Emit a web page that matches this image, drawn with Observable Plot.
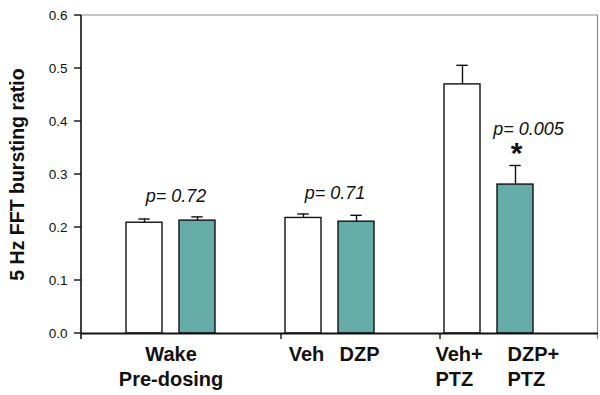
<!DOCTYPE html>
<html><head><meta charset="utf-8">
<script src="https://cdn.jsdelivr.net/npm/d3@7"></script>
<script src="https://cdn.jsdelivr.net/npm/@observablehq/plot@0.6"></script>
<style>
body{margin:0;background:#fff;}
#chart svg{display:block;}
</style></head><body><div id="chart"></div>
<script>
// ---- data ----
const barKeys = ["Wake-Veh","Wake-DZP","Veh","DZP","Veh+PTZ","DZP+PTZ"];
const treatments = ["Vehicle","DZP","Vehicle","DZP","Vehicle","DZP"];
const means = [0.209, 0.213, 0.218, 0.211, 0.470, 0.281];
const sems = [0.007, 0.007, 0.0075, 0.012, 0.036, 0.036];
const xDomain = ["Wake-Veh","Wake-DZP","gap1","Veh","DZP","gap2","Veh+PTZ","DZP+PTZ"];
const pairLabel = ["Wake\nPre-dosing"];
const pairLabelAt = ["Wake-Veh"];
const barLabels = ["Veh","DZP"];
const barLabelAt = ["Veh","DZP"];
const ptzLabels = ["Veh+\nPTZ","DZP+\nPTZ"];
const ptzLabelAt = ["Veh+PTZ","DZP+PTZ"];
const pairP = ["p= 0.72","p= 0.71"];
const pairPAt = [["Wake-Veh","Wake-DZP"],["Veh","DZP"]];
const singleP = ["p= 0.005"];
const singlePAt = ["DZP+PTZ"];
const starAt = ["DZP+PTZ"];
const groupStarts = ["Veh","Veh+PTZ"];
const yTicks = [0, 0.1, 0.2, 0.3, 0.4, 0.5, 0.6];
const yLabel = "5 Hz FFT bursting ratio";

// ---- layout ----
const W = 600, H = 395, mL = 81, mR = 2, mT = 15, mB = 62;
const xOpts = {type: "band", domain: xDomain, paddingInner: 0.33, paddingOuter: 1.03, align: 0.41};
const xs = Plot.scale({x: {...xOpts, range: [mL, W - mR]}});
const bw = xs.bandwidth;
const step = xs.step || bw / (1 - xOpts.paddingInner);

const bars = barKeys.map((k, i) => ({key: k, treatment: treatments[i], mean: means[i], top: means[i] + sems[i]}));
const topOf = k => bars.find(b => b.key === k).top;
const pairData = pairP.map((t, i) => ({text: t, key: pairPAt[i][0], top: Math.max(...pairPAt[i].map(topOf))}));
const singleData = singleP.map((t, i) => ({text: t, key: singlePAt[i], top: topOf(singlePAt[i])}));
const starData = starAt.map(k => ({key: k, top: topOf(k)}));
const tickData = yTicks.map(v => ({value: v, label: d3.format(".1f")(v)}));
const ink = "#111";
const font = "'Liberation Sans', Arial, Helvetica, sans-serif";

const chart = Plot.plot({
  width: W, height: H,
  marginLeft: mL, marginRight: mR, marginTop: mT, marginBottom: mB,
  style: {fontFamily: font, fontSize: "14px", color: ink, background: "#fff"},
  x: {...xOpts, axis: null},
  y: {domain: [0, 0.6], axis: null},
  color: {domain: ["Vehicle", "DZP"], range: ["#ffffff", "#65aba7"]},
  marks: [
    // frame lines, y ticks and group separators
    (index, scales, values, dims) => {
      const {width, marginLeft, marginRight} = dims;
      const x0 = marginLeft, x1 = width - marginRight;
      const yT = scales.y(0.6), yB = scales.y(0);
      const g = d3.create("svg:g");
      g.append("line").attr("x1", x0).attr("x2", x1).attr("y1", yT).attr("y2", yT).attr("stroke", "#8a8a8a").attr("stroke-width", 1);
      g.append("line").attr("x1", x1 - 0.5).attr("x2", x1 - 0.5).attr("y1", yT).attr("y2", yB + 6).attr("stroke", "#8a8a8a").attr("stroke-width", 1.2);
      g.append("line").attr("x1", x0).attr("x2", x0).attr("y1", yT).attr("y2", yB + 6).attr("stroke", ink).attr("stroke-width", 1.6);
      for (const t of yTicks) {
        const yy = scales.y(t);
        g.append("line").attr("x1", x0 - 7).attr("x2", x0).attr("y1", yy).attr("y2", yy).attr("stroke", ink).attr("stroke-width", 1.4);
      }
      for (const k of groupStarts) {
        const xx = scales.x(k) - 4;
        g.append("line").attr("x1", xx).attr("x2", xx).attr("y1", yB).attr("y2", yB + 6).attr("stroke", ink).attr("stroke-width", 1.4);
      }
      return g.node();
    },
    Plot.text(tickData, {frameAnchor: "left", y: "value", text: "label", dx: -14, textAnchor: "end", lineAnchor: "middle", fontSize: 13.5, fill: ink}),
    Plot.barY(bars, {x: "key", y: "mean", fill: "treatment", stroke: ink, strokeWidth: 1.4}),
    Plot.ruleX(bars, {x: "key", y1: "mean", y2: "top", stroke: ink, strokeWidth: 1.4}),
    Plot.tickY(bars, {x: "key", y: "top", stroke: ink, strokeWidth: 1.4, insetLeft: (bw - 11) / 2, insetRight: (bw - 11) / 2}),
    Plot.ruleY([0], {stroke: ink, strokeWidth: 1.8}),
    // x labels
    Plot.text(pairLabel, {x: (d, i) => pairLabelAt[i], text: d => d, frameAnchor: "bottom", dy: 10, dx: step / 2, lineAnchor: "top", lineHeight: 1.25, fontSize: 20, fontWeight: "bold", fill: ink}),
    Plot.text(barLabels, {x: (d, i) => barLabelAt[i], text: d => d, frameAnchor: "bottom", dy: 10, dx: 3, lineAnchor: "top", lineHeight: 1.25, fontSize: 20, fontWeight: "bold", fill: ink}),
    Plot.text(ptzLabels.slice(0, 1), {x: (d, i) => ptzLabelAt[i], text: d => d, frameAnchor: "bottom", dy: 10, dx: -27, textAnchor: "start", lineAnchor: "top", lineHeight: 1.25, fontSize: 20, fontWeight: "bold", fill: ink}),
    Plot.text(ptzLabels.slice(1), {x: (d, i) => ptzLabelAt[i + 1], text: d => d, frameAnchor: "bottom", dy: 10, dx: -8, textAnchor: "start", lineAnchor: "top", lineHeight: 1.25, fontSize: 20, fontWeight: "bold", fill: ink}),
    // p-values and star
    Plot.text(pairData, {x: "key", y: "top", text: "text", dx: step / 2 + 5, dy: -15, lineAnchor: "bottom", fontSize: 18, fontStyle: "italic", fill: ink}),
    Plot.text(singleData, {x: "key", y: "top", text: "text", dx: 13, dy: -30, lineAnchor: "bottom", fontSize: 18, fontStyle: "italic", fill: ink}),
    Plot.text(starData, {x: "key", y: "top", text: () => "*", dx: 1, dy: -2, lineAnchor: "bottom", fontSize: 30, fontWeight: "bold", fill: ink}),
    // y label
    Plot.text([yLabel], {frameAnchor: "left", text: d => d, rotate: -90, dx: -64, textAnchor: "middle", lineAnchor: "middle", fontSize: 19.5, fontWeight: "bold", fill: ink})
  ]
});
document.getElementById("chart").append(chart);
</script>
</body></html>
